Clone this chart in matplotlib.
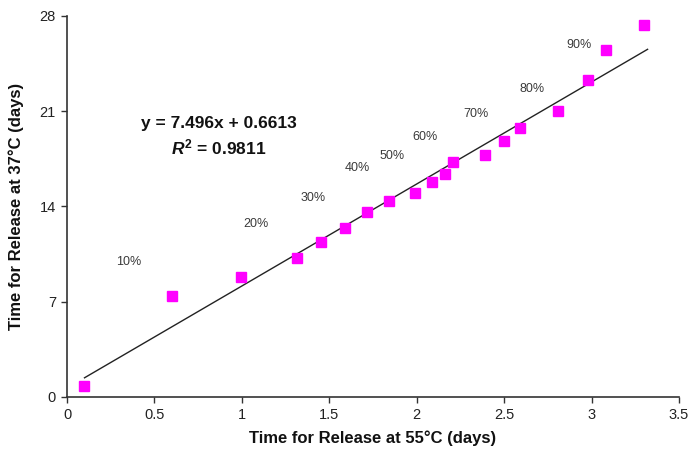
"""
Release time at 37 °C vs. release time at 55 °C, with linear fit
and percent-released annotations.
"""

import numpy as np
import matplotlib
matplotlib.use("Agg")
import matplotlib.pyplot as plt

plt.rcParams["font.family"] = ["Liberation Sans", "DejaVu Sans"]
plt.rcParams["mathtext.fontset"] = "custom"
plt.rcParams["mathtext.it"] = "Liberation Sans:italic:bold"
plt.rcParams["mathtext.rm"] = "Liberation Sans:bold"

# Measured release times (days)
t_55c = [0.10, 0.60, 0.995, 1.315, 1.45, 1.59, 1.715, 1.84, 1.99, 2.09,
         2.16, 2.21, 2.39, 2.50, 2.59, 2.81, 2.98, 3.08, 3.30]
t_37c = [0.8, 7.4, 8.8, 10.2, 11.4, 12.4, 13.6, 14.4, 15.0, 15.8,
         16.4, 17.3, 17.8, 18.8, 19.8, 21.0, 23.3, 25.5, 27.3]

# Linear fit reported on the chart
SLOPE = 7.496
INTERCEPT = 0.6613
R_SQUARED = 0.9811
fit_x = [0.10, 3.32]

# Percent-released labels and where they sit
pct_labels = ["10%", "20%", "30%", "40%", "50%", "60%", "70%", "80%", "90%"]
pct_x = [0.35, 1.08, 1.41, 1.66, 1.86, 2.05, 2.34, 2.66, 2.93]
pct_y = [9.9, 12.7, 14.6, 16.8, 17.7, 19.1, 20.8, 22.6, 25.9]

x_ticks = [0, 0.5, 1, 1.5, 2, 2.5, 3, 3.5]
x_tick_labels = ["0", "0.5", "1", "1.5", "2", "2.5", "3", "3.5"]
y_ticks = [0, 7, 14, 21, 28]


fig = plt.figure(figsize=(6.88, 4.58), dpi=100)
ax = fig.add_axes([0.0974, 0.1332, 0.8896, 0.832])

ax.plot(t_55c, t_37c, linestyle="none", marker="s", markersize=6.5,
        color="#ff00ff", markeredgecolor="#ff00ff", zorder=3)

fx = np.array(fit_x)
ax.plot(fx, SLOPE * fx + INTERCEPT, color="#222222", linewidth=1.0, zorder=2)

for lbl, px, py in zip(pct_labels, pct_x, pct_y):
    ax.text(px, py, lbl, ha="center", va="center", fontsize=9, color="#3a3a3a")

ax.text(0.87, 20.1, f"y = {SLOPE}x + {INTERCEPT}", ha="center", va="center",
        fontsize=12.5, fontweight="bold", color="#111111")
ax.text(0.87, 18.3, f"$R^{{2}}$ = {R_SQUARED}", ha="center", va="center",
        fontsize=12.5, fontweight="bold", color="#111111")

ax.set_xlim(0, 3.5)
ax.set_ylim(0, 28)
ax.set_xticks(x_ticks)
ax.set_xticklabels(x_tick_labels)
ax.set_yticks(y_ticks)
ax.tick_params(axis="both", labelsize=10.5, length=4, width=1, color="#333333",
               labelcolor="#222222", pad=4)

for side in ("top", "right"):
    ax.spines[side].set_visible(False)
for side in ("left", "bottom"):
    ax.spines[side].set_color("#333333")
    ax.spines[side].set_linewidth(1.2)

ax.set_xlabel("Time for Release at 55°C (days)", fontsize=12, fontweight="bold",
              color="#111111", labelpad=6)
ax.set_ylabel("Time for Release at 37°C (days)", fontsize=12, fontweight="bold",
              color="#111111", labelpad=11)

plt.savefig("out.png", dpi=100)
plt.close()
